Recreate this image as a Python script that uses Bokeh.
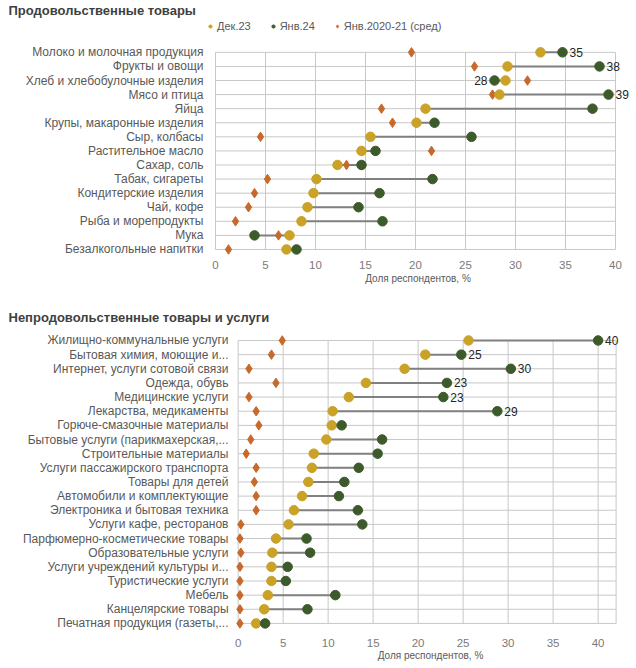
from bokeh.plotting import figure
from bokeh.layouts import column
from bokeh.models import Range1d, Legend, LegendItem, FixedTicker
from bokeh.embed import file_html
from bokeh.resources import INLINE
from bokeh.core.properties import value

# ---------------- data ----------------
food_cats = ["Молоко и молочная продукция", "Фрукты и овощи", "Хлеб и хлебобулочные изделия",
             "Мясо и птица", "Яйца", "Крупы, макаронные изделия", "Сыр, колбасы",
             "Растительное масло", "Сахар, соль", "Табак, сигареты", "Кондитерские изделия",
             "Чай, кофе", "Рыба и морепродукты", "Мука", "Безалкогольные напитки"]
food_dec = [32.5, 29.2, 29.0, 28.4, 21.0, 20.1, 15.5, 14.6, 12.2, 10.1, 9.8, 9.2, 8.6, 7.4, 7.1]
food_jan = [34.7, 38.4, 27.9, 39.3, 37.7, 21.9, 25.6, 16.0, 14.6, 21.7, 16.4, 14.3, 16.7, 3.9, 8.1]
food_avg = [19.6, 25.9, 31.2, 27.7, 16.6, 17.7, 4.5, 21.6, 13.1, 5.2, 3.9, 3.3, 2.0, 6.3, 1.3]
food_labeled = 4

nonfood_cats = ["Жилищно-коммунальные услуги", "Бытовая химия, моющие и...",
                "Интернет, услуги сотовой связи", "Одежда, обувь", "Медицинские услуги",
                "Лекарства, медикаменты", "Горюче-смазочные материалы",
                "Бытовые услуги (парикмахерская,...", "Строительные материалы",
                "Услуги пассажирского транспорта", "Товары для детей",
                "Автомобили и комплектующие", "Электроника и бытовая техника",
                "Услуги кафе, ресторанов", "Парфюмерно-косметические товары",
                "Образовательные услуги", "Услуги учреждений культуры и...",
                "Туристические услуги", "Мебель", "Канцелярские товары",
                "Печатная продукция (газеты,..."]
nonfood_dec = [25.6, 20.8, 18.5, 14.2, 12.3, 10.5, 10.4, 9.8, 8.4, 8.2, 7.8, 7.1, 6.2, 5.6,
               4.2, 3.8, 3.7, 3.7, 3.3, 2.9, 2.0]
nonfood_jan = [40.0, 24.8, 30.3, 23.2, 22.8, 28.8, 11.5, 16.0, 15.5, 13.4, 11.8, 11.2, 13.3,
               13.8, 7.6, 8.0, 5.5, 5.3, 10.8, 7.7, 3.0]
nonfood_avg = [4.9, 3.7, 1.2, 4.2, 1.2, 2.0, 2.3, 1.4, 0.9, 2.0, 1.8, 2.0, 2.0, 0.3,
               0.2, 0.3, 0.2, 0.2, 0.2, 0.2, 0.2]
nonfood_labeled = 6

x_ticks = [0, 5, 10, 15, 20, 25, 30, 35, 40]
series_names = ["Дек.23", "Янв.24", "Янв.2020-21 (сред)"]
x_title = "Доля респондентов, %"

# ---------------- styles ----------------
DEC = "#C9A227"
JAN = "#3D5A2B"
AVG = "#C8692C"
LINK = "#808080"
GRID = "#C8C8C8"
TXT = "#595959"
FONT = "Liberation Sans"
W = 634


def panel(title, cats, dec, jan, avg, nlab, x_start, x_end, grid_end, y_top,
          height, bl, bt, bb, tick_standoff, title_standoff, legend_loc):
    n = len(cats)
    ys = list(range(n))
    p = figure(width=W, height=height, output_backend="svg", toolbar_location=None,
               y_range=Range1d(n - 0.5, y_top), x_range=Range1d(x_start, x_end),
               min_border_left=bl, min_border_right=4, min_border_top=bt,
               min_border_bottom=bb)
    p.frame_align = False
    p.outline_line_color = None
    p.xgrid.visible = False
    p.ygrid.visible = False

    # grid lines
    p.segment(x0=x_ticks, x1=x_ticks, y0=[ys[0]] * len(x_ticks),
              y1=[ys[-1]] * len(x_ticks), line_color=GRID, line_width=1)
    if grid_end > x_ticks[-1]:
        p.segment(x0=[grid_end], x1=[grid_end], y0=[ys[0]], y1=[ys[-1]],
                  line_color=GRID, line_width=1)
    p.segment(x0=[0] * n, x1=[grid_end] * n, y0=ys, y1=ys,
              line_color=GRID, line_width=1)

    # dumbbells
    p.segment(x0=dec, x1=jan, y0=ys, y1=ys, line_color=LINK, line_width=2)
    r_avg = p.scatter(x=avg, y=ys, marker="diamond", size=9.5, fill_color=AVG,
                      line_color=AVG)
    r_dec = p.scatter(x=dec, y=ys, marker="circle", size=9.5, fill_color=DEC,
                      line_color=DEC)
    r_jan = p.scatter(x=jan, y=ys, marker="circle", size=9.5, fill_color=JAN,
                      line_color=JAN)

    # value labels
    rx, ry, rt, lx, ly, lt = [], [], [], [], [], []
    for i in range(nlab):
        t = f"{jan[i]:.0f}"
        if jan[i] >= dec[i]:
            rx.append(jan[i]); ry.append(ys[i]); rt.append(t)
        else:
            lx.append(jan[i]); ly.append(ys[i]); lt.append(t)
    p.text(x=rx, y=ry, text=rt, x_offset=7, text_align="left", text_baseline="middle",
           text_font=value(FONT), text_font_size="12px", text_color="#262626")
    p.text(x=lx, y=ly, text=lt, x_offset=-7, text_align="right", text_baseline="middle",
           text_font=value(FONT), text_font_size="12px", text_color="#262626")

    # axes
    p.xaxis.ticker = FixedTicker(ticks=x_ticks)
    p.xaxis.axis_line_color = None
    p.xaxis.major_tick_line_color = None
    p.xaxis.minor_tick_line_color = None
    p.xaxis.major_tick_out = 0
    p.xaxis.major_tick_in = 0
    p.xaxis.minor_tick_out = 0
    p.xaxis.major_label_text_font = FONT
    p.xaxis.major_label_text_font_size = "11.5px"
    p.xaxis.major_label_text_color = "#7A7A7A"
    p.xaxis.major_label_standoff = tick_standoff
    p.xaxis.axis_label = x_title
    p.xaxis.axis_label_text_font = FONT
    p.xaxis.axis_label_text_font_size = "10px"
    p.xaxis.axis_label_text_font_style = "normal"
    p.xaxis.axis_label_text_color = TXT
    p.xaxis.axis_label_standoff = title_standoff

    p.yaxis.ticker = FixedTicker(ticks=ys)
    p.yaxis.major_label_overrides = {i: c for i, c in zip(ys, cats)}
    p.yaxis.axis_line_color = None
    p.yaxis.major_tick_line_color = None
    p.yaxis.minor_tick_line_color = None
    p.yaxis.major_tick_out = 0
    p.yaxis.major_tick_in = 0
    p.yaxis.minor_tick_out = 0
    p.yaxis.major_label_text_font = FONT
    p.yaxis.major_label_text_font_size = "12px"
    p.yaxis.major_label_text_color = TXT
    p.yaxis.major_label_standoff = 2

    # title
    p.title.text = title
    p.title.text_font = FONT
    p.title.text_font_size = "13px"
    p.title.text_font_style = "bold"
    p.title.text_color = "#3F3F3F"
    p.title.align = "left"
    p.title.offset = -(bl - 8)
    p.title.standoff = 0

    if legend_loc is not None:
        leg = Legend(items=[LegendItem(label=series_names[0], renderers=[r_dec]),
                            LegendItem(label=series_names[1], renderers=[r_jan]),
                            LegendItem(label=series_names[2], renderers=[r_avg])],
                     orientation="horizontal", location=legend_loc)
        leg.label_text_font = FONT
        leg.label_text_font_size = "11px"
        leg.label_text_color = TXT
        leg.glyph_width = 8
        leg.glyph_height = 8
        leg.label_standoff = 3
        leg.spacing = 18
        leg.padding = 0
        leg.margin = 0
        leg.border_line_color = None
        leg.background_fill_alpha = 0
        leg.label_height = 12
        p.add_layout(leg)
    return p


top = panel("Продовольственные товары", food_cats, food_dec, food_jan, food_avg,
            food_labeled, -1.0, 41.5, 40, -2.475, 293, 205, 16, 37, 4, 1, (1, 224))
bottom = panel("Непродовольственные товары и услуги", nonfood_cats, nonfood_dec,
               nonfood_jan, nonfood_avg, nonfood_labeled, -0.85, 43.6, 42, -1.13, 364,
               230, 21, 37, 8, 0, None)

layout = column(top, bottom, spacing=10)
open("out.html", "w").write(file_html(layout, INLINE))
